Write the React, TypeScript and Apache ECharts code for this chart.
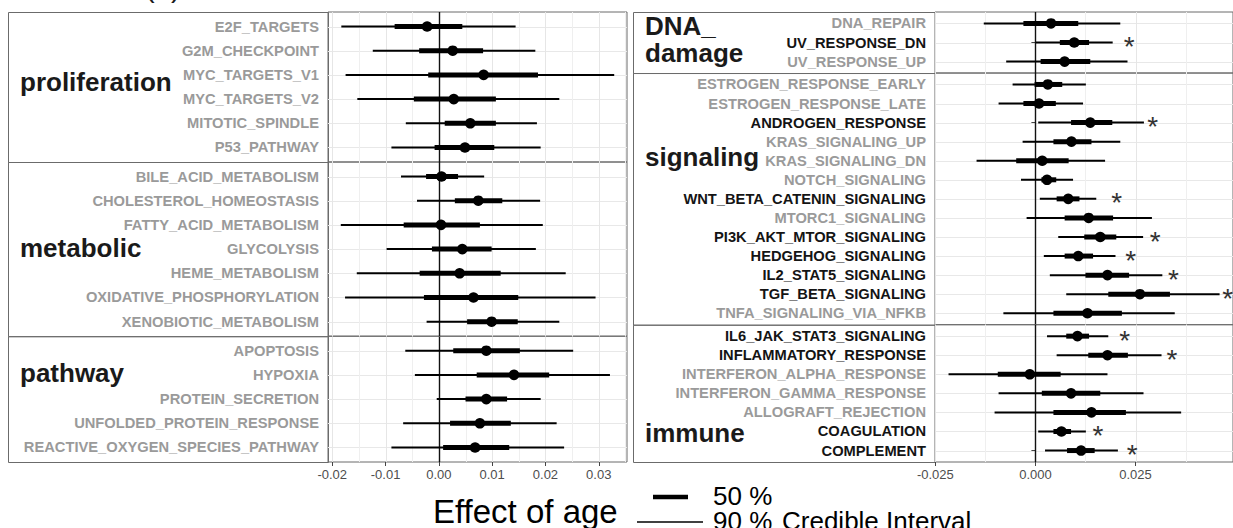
import React, { useEffect, useRef } from "react";
import * as echarts from "echarts";

const FONT = "'Liberation Sans', Arial, Helvetica, sans-serif";

// ---------- data: [lo90, lo50, mean, hi50, hi90] ----------
const proliferationTerms = ["E2F_TARGETS", "G2M_CHECKPOINT", "MYC_TARGETS_V1", "MYC_TARGETS_V2", "MITOTIC_SPINDLE", "P53_PATHWAY"];
const proliferationVals = [
  [-0.0183, -0.0083, -0.0022, 0.0044, 0.0144],
  [-0.0124, -0.0037, 0.0026, 0.0083, 0.0181],
  [-0.0175, -0.002, 0.0084, 0.0186, 0.0329],
  [-0.0153, -0.0047, 0.0028, 0.0107, 0.0226],
  [-0.0062, 0.0011, 0.0059, 0.0107, 0.0184],
  [-0.0089, -0.0008, 0.0049, 0.0104, 0.0191],
];
const proliferationStars = [null, null, null, null, null, null];

const metabolicTerms = ["BILE_ACID_METABOLISM", "CHOLESTEROL_HOMEOSTASIS", "FATTY_ACID_METABOLISM", "GLYCOLYSIS", "HEME_METABOLISM", "OXIDATIVE_PHOSPHORYLATION", "XENOBIOTIC_METABOLISM"];
const metabolicVals = [
  [-0.0071, -0.0024, 0.0005, 0.0036, 0.0085],
  [-0.0041, 0.003, 0.0074, 0.0119, 0.019],
  [-0.0184, -0.0066, 0.0004, 0.0077, 0.0195],
  [-0.0098, -0.0013, 0.0044, 0.0099, 0.0182],
  [-0.0154, -0.0036, 0.0039, 0.0116, 0.0238],
  [-0.0176, -0.0028, 0.0065, 0.0149, 0.0294],
  [-0.0023, 0.0053, 0.0099, 0.0148, 0.0226],
];
const metabolicStars = [null, null, null, null, null, null, null];

const pathwayTerms = ["APOPTOSIS", "HYPOXIA", "PROTEIN_SECRETION", "UNFOLDED_PROTEIN_RESPONSE", "REACTIVE_OXYGEN_SPECIES_PATHWAY"];
const pathwayVals = [
  [-0.0063, 0.0027, 0.0089, 0.0152, 0.0252],
  [-0.0045, 0.0071, 0.0141, 0.0207, 0.0321],
  [-0.0004, 0.005, 0.0089, 0.0128, 0.0191],
  [-0.0067, 0.0021, 0.0077, 0.0135, 0.0221],
  [-0.0089, 0.0008, 0.0068, 0.0132, 0.0235],
];
const pathwayStars = [null, null, null, null, null];

const dnaTerms = ["DNA_REPAIR", "UV_RESPONSE_DN", "UV_RESPONSE_UP"];
const dnaVals = [
  [-0.0129, -0.003, 0.0039, 0.0107, 0.0212],
  [0.0001, 0.0061, 0.0097, 0.0134, 0.0193],
  [-0.0073, 0.0013, 0.0073, 0.0137, 0.023],
];
const dnaStars = [null, 0.0234, null];

const signalingTerms = [
  "ESTROGEN_RESPONSE_EARLY", "ESTROGEN_RESPONSE_LATE", "ANDROGEN_RESPONSE", "KRAS_SIGNALING_UP", "KRAS_SIGNALING_DN",
  "NOTCH_SIGNALING", "WNT_BETA_CATENIN_SIGNALING", "MTORC1_SIGNALING", "PI3K_AKT_MTOR_SIGNALING", "HEDGEHOG_SIGNALING",
  "IL2_STAT5_SIGNALING", "TGF_BETA_SIGNALING", "TNFA_SIGNALING_VIA_NFKB",
];
const signalingVals = [
  [-0.0057, -0.0002, 0.0031, 0.0067, 0.0126],
  [-0.0092, -0.003, 0.0009, 0.0051, 0.0119],
  [0.0007, 0.0089, 0.0137, 0.0192, 0.0271],
  [-0.0032, 0.0045, 0.009, 0.014, 0.0212],
  [-0.0147, -0.0048, 0.0017, 0.0083, 0.0174],
  [-0.0036, 0.0015, 0.0029, 0.0052, 0.0094],
  [0.0011, 0.0053, 0.0082, 0.011, 0.0152],
  [-0.0022, 0.0073, 0.0133, 0.0194, 0.0291],
  [0.0057, 0.0122, 0.0162, 0.0202, 0.0269],
  [0.0021, 0.0073, 0.0107, 0.0144, 0.02],
  [0.0036, 0.0125, 0.018, 0.0234, 0.0317],
  [0.0077, 0.0182, 0.0261, 0.0336, 0.046],
  [-0.008, 0.0045, 0.013, 0.0216, 0.0348],
];
const signalingStars = [null, null, 0.0293, null, null, null, 0.0203, null, 0.0299, 0.0238, 0.0345, 0.048, null];

const immuneTerms = ["IL6_JAK_STAT3_SIGNALING", "INFLAMMATORY_RESPONSE", "INTERFERON_ALPHA_RESPONSE", "INTERFERON_GAMMA_RESPONSE", "ALLOGRAFT_REJECTION", "COAGULATION", "COMPLEMENT"];
const immuneVals = [
  [0.0029, 0.0077, 0.0105, 0.0134, 0.0182],
  [0.0053, 0.0132, 0.018, 0.0231, 0.0315],
  [-0.0217, -0.0094, -0.0014, 0.0063, 0.018],
  [-0.0092, 0.0016, 0.0089, 0.0162, 0.027],
  [-0.0102, 0.0045, 0.014, 0.0226, 0.0364],
  [0.0007, 0.0045, 0.0065, 0.0089, 0.0126],
  [0.0024, 0.0079, 0.0114, 0.0148, 0.0206],
];
const immuneStars = [0.0223, 0.0341, null, null, null, 0.0156, 0.0242];

// axis ticks / grid lines
const leftTicks = [-0.02, -0.01, 0, 0.01, 0.02, 0.03];
const leftGridLines = [-0.02, -0.015, -0.01, -0.005, 0, 0.005, 0.01, 0.015, 0.02, 0.025, 0.03, 0.035];
const rightTicks = [-0.025, 0, 0.025];
const rightGridLines = [-0.025, -0.0125, 0, 0.0125, 0.025, 0.0375];
const leftRange = [-0.0208, 0.0353];
const rightRange = [-0.02508, 0.04935];

type Facet = { label: string; terms: string[]; vals: number[][]; stars: (number | null)[]; labelRow: number; side: number };
const facets: Facet[] = [
  { label: "proliferation", terms: proliferationTerms, vals: proliferationVals, stars: proliferationStars, labelRow: 3.3, side: 0 },
  { label: "metabolic", terms: metabolicTerms, vals: metabolicVals, stars: metabolicStars, labelRow: 3.95, side: 0 },
  { label: "pathway", terms: pathwayTerms, vals: pathwayVals, stars: pathwayStars, labelRow: 1.93, side: 0 },
  { label: "DNA_\ndamage", terms: dnaTerms, vals: dnaVals, stars: dnaStars, labelRow: 1.84, side: 1 },
  { label: "signaling", terms: signalingTerms, vals: signalingVals, stars: signalingStars, labelRow: 4.8, side: 1 },
  { label: "immune", terms: immuneTerms, vals: immuneVals, stars: immuneStars, labelRow: 6.1, side: 1 },
];

// ---------- layout ----------
const PLOT_TOP = 12;
const PLOT_BOTTOM = 462;
const SIDE = [
  { stripLeft: 8, gridLeft: 328, gridWidth: 299, labelX: 20, range: leftRange, ticks: leftTicks, lines: leftGridLines, dec: 2 },
  { stripLeft: 633, gridLeft: 935, gridWidth: 308, labelX: 645, range: rightRange, ticks: rightTicks, lines: rightGridLines, dec: 3 },
];

function buildOption() {
  const grids: any[] = [];
  const xAxes: any[] = [];
  const yAxes: any[] = [];
  const series: any[] = [];
  const graphics: any[] = [];

  const tops: number[] = [];
  const heights: number[] = [];
  const unitPx: number[] = [];
  [0, 1].forEach((s) => {
    const idx = facets.map((f, i) => (f.side === s ? i : -1)).filter((i) => i >= 0);
    const units = idx.reduce((a, i) => a + facets[i].terms.length + 0.2, 0);
    const u = (PLOT_BOTTOM - PLOT_TOP) / units;
    let t = PLOT_TOP;
    idx.forEach((i) => {
      const h = (facets[i].terms.length + 0.2) * u;
      tops[i] = t;
      heights[i] = h;
      unitPx[i] = u;
      t += h;
    });
  });

  facets.forEach((f, i) => {
    const sd = SIDE[f.side];
    const n = f.terms.length;
    const isBottom = i === 2 || i === 5;
    const sig = f.stars.map((s) => s !== null);
    grids.push({
      left: sd.gridLeft,
      top: tops[i],
      width: sd.gridWidth,
      height: heights[i],
      show: true,
      borderColor: "#6b6b6b",
      borderWidth: 1,
      backgroundColor: "transparent",
    });
    xAxes.push({
      type: "value",
      gridIndex: i,
      min: sd.range[0],
      max: sd.range[1],
      axisLine: { show: false },
      splitLine: { show: false },
      axisTick: { show: isBottom, customValues: sd.ticks, length: 4, lineStyle: { color: "#444", width: 1 } },
      axisLabel: {
        show: isBottom,
        customValues: sd.ticks,
        formatter: (v: number) => v.toFixed(sd.dec),
        color: "#4d4d4d",
        fontSize: 13,
        fontFamily: FONT,
        margin: 6,
      },
    });
    const rows = f.terms.map((_, k) => k + 1);
    yAxes.push({
      type: "value",
      gridIndex: i,
      inverse: true,
      min: 0.4,
      max: n + 0.6,
      axisLine: { show: false },
      splitLine: { show: false },
      axisTick: { show: true, customValues: rows, length: 4, lineStyle: { color: "#444", width: 1 } },
      axisLabel: {
        show: true,
        customValues: rows,
        margin: 9,
        formatter: (v: number) => {
          const k = Math.round(v) - 1;
          return `{${sig[k] ? "b" : "g"}|${f.terms[k]}}`;
        },
        rich: {
          b: { color: "#141414", fontWeight: "bold", fontSize: 14.7, fontFamily: FONT },
          g: { color: "#9a9a9a", fontWeight: "bold", fontSize: 14.7, fontFamily: FONT },
        },
      },
    });

    // background grid lines + zero line
    const gridData: number[][] = [];
    rows.forEach((r) => gridData.push([0, r]));
    sd.lines.forEach((v) => gridData.push([1, v]));
    gridData.push([2, 0]);
    series.push({
      type: "custom",
      xAxisIndex: i,
      yAxisIndex: i,
      z: 1,
      silent: true,
      clip: true,
      data: gridData,
      renderItem: (params: any, api: any) => {
        const cs = params.coordSys;
        const kind = api.value(0);
        const v = api.value(1);
        if (kind === 0) {
          const y = Math.round(api.coord([0, v])[1]) + 0.5;
          return { type: "line", shape: { x1: cs.x, y1: y, x2: cs.x + cs.width, y2: y }, style: { stroke: "#e8e8e8", lineWidth: 1 } };
        }
        const x = Math.round(api.coord([v, 1])[0]) + 0.5;
        if (kind === 1) {
          const major = sd.ticks.some((t) => Math.abs(t - v) < 1e-9);
          return { type: "line", shape: { x1: x, y1: cs.y, x2: x, y2: cs.y + cs.height }, style: { stroke: major ? "#e6e6e6" : "#efefef", lineWidth: 1 } };
        }
        return { type: "line", z2: 5, shape: { x1: x, y1: cs.y, x2: x, y2: cs.y + cs.height }, style: { stroke: "#111", lineWidth: 1.4 } };
      },
    });

    // intervals
    series.push({
      type: "custom",
      xAxisIndex: i,
      yAxisIndex: i,
      z: 3,
      silent: true,
      encode: { x: [1, 2, 3, 4, 5], y: 0 },
      data: f.vals.map((v, k) => [k + 1, ...v]),
      renderItem: (params: any, api: any) => {
        const row = api.value(0);
        const y = api.coord([0, row])[1];
        const px = (d: number) => api.coord([api.value(d), row])[0];
        return {
          type: "group",
          children: [
            { type: "line", shape: { x1: px(1), y1: y, x2: px(5), y2: y }, style: { stroke: "#000", lineWidth: 2 } },
            { type: "line", shape: { x1: px(2), y1: y, x2: px(4), y2: y }, style: { stroke: "#000", lineWidth: 5 } },
            { type: "circle", shape: { cx: px(3), cy: y, r: 5.3 }, style: { fill: "#000" } },
          ],
        };
      },
    });

    // significance stars
    const starData = f.stars.map((s, k) => (s === null ? null : [k + 1, s])).filter((d) => d !== null);
    if (starData.length) {
      series.push({
        type: "custom",
        xAxisIndex: i,
        yAxisIndex: i,
        z: 4,
        silent: true,
        encode: { x: 1, y: 0 },
        data: starData,
        renderItem: (params: any, api: any) => {
          const p = api.coord([api.value(1), api.value(0)]);
          return {
            type: "text",
            style: {
              text: "*",
              x: p[0],
              y: p[1] + 4,
              fontSize: 28,
              fontFamily: FONT,
              fill: "#333",
              align: "center",
              verticalAlign: "middle",
              textAlign: "center",
              textVerticalAlign: "middle",
            },
          };
        },
      });
    }

    // strip box
    graphics.push({
      type: "rect",
      z: 0,
      shape: { x: sd.stripLeft + 0.5, y: tops[i] + 0.5, width: sd.gridLeft - sd.stripLeft, height: heights[i] },
      style: { fill: "none", stroke: "#6b6b6b", lineWidth: 1 },
    });
    // group label
    graphics.push({
      type: "text",
      x: sd.labelX,
      y: tops[i] + (f.labelRow - 0.4) * unitPx[i],
      style: {
        text: f.label,
        fontSize: 26,
        fontWeight: "bold",
        fontFamily: FONT,
        fill: "#1a1a1a",
        lineHeight: 27,
        align: "left",
        verticalAlign: "middle",
        textAlign: "left",
        textVerticalAlign: "middle",
      },
    });
  });

  // title (cut off at top)
  graphics.push({
    type: "text",
    x: 17,
    y: -13,
    style: { text: "CD8+ CM(L)", fontSize: 29, fontFamily: FONT, fill: "#1a1a1a", align: "left", verticalAlign: "middle", textAlign: "left", textVerticalAlign: "middle" },
  });

  // legend
  const txt = (text: string, x: number, y: number, size: number) => ({
    type: "text",
    x,
    y,
    style: { text, fontSize: size, fontFamily: FONT, fill: "#000", align: "left", verticalAlign: "middle", textAlign: "left", textVerticalAlign: "middle" },
  });
  graphics.push(txt("Effect of age", 433, 511, 33));
  graphics.push(txt("50 %", 713, 496, 26));
  graphics.push(txt("90 %", 713, 521, 26));
  graphics.push(txt("Credible Interval", 782, 521, 26));
  graphics.push({ type: "line", shape: { x1: 653, y1: 497, x2: 688, y2: 497 }, style: { stroke: "#000", lineWidth: 4.5 } });
  graphics.push({ type: "line", shape: { x1: 637, y1: 522, x2: 703, y2: 522 }, style: { stroke: "#000", lineWidth: 1.6 } });

  return {
    animation: false,
    backgroundColor: "#ffffff",
    grid: grids,
    xAxis: xAxes,
    yAxis: yAxes,
    series,
    graphic: { elements: graphics },
  };
}

export default function App() {
  const ref = useRef<HTMLDivElement>(null);
  useEffect(() => {
    if (!ref.current) return;
    const chart = echarts.init(ref.current, null, { renderer: "svg" });
    chart.setOption(buildOption() as any);
    return () => chart.dispose();
  }, []);
  return (
    <div
      ref={ref}
      style={{ position: "absolute", left: 0, top: 0, width: 1233, height: 528, background: "#fff" }}
    />
  );
}
